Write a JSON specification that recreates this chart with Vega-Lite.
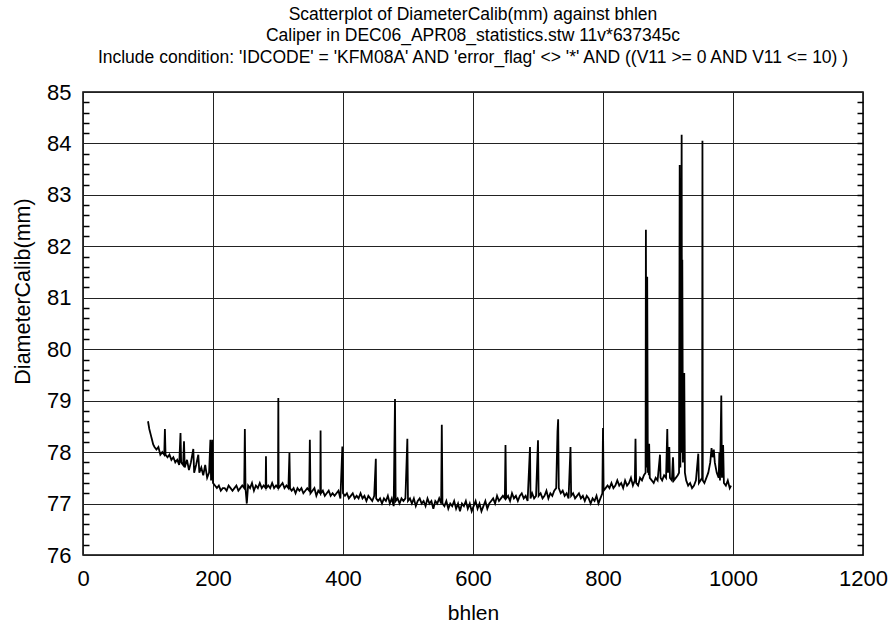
{
  "$schema": "https://vega.github.io/schema/vega-lite/v6.json",
  "autosize": "none",
  "width": 780,
  "height": 463,
  "padding": {"left": 83, "top": 92, "right": 27, "bottom": 75},
  "background": "white",
  "config": {
    "font": "Liberation Sans",
    "view": {"stroke": "black", "strokeWidth": 1.5},
    "axis": {"labelColor": "black", "titleColor": "black", "labelFont": "Liberation Sans", "titleFont": "Liberation Sans", "titleFontWeight": "normal"}
  },
  "title": {
    "text": ["Scatterplot of DiameterCalib(mm) against bhlen", "Caliper in DEC06_APR08_statistics.stw 11v*637345c", "Include condition: 'IDCODE' = 'KFM08A' AND 'error_flag' <> '*' AND  ((V11 >= 0 AND V11 <= 10) )"],
    "fontSize": 17.5,
    "fontWeight": "normal",
    "font": "Liberation Sans",
    "color": "black",
    "lineHeight": 21.5,
    "anchor": "middle",
    "offset": 15
  },
  "data": {"values": [
    {"bhlen": 100, "diam": 78.6}, {"bhlen": 102, "diam": 78.45}, {"bhlen": 104, "diam": 78.35}, {"bhlen": 106, "diam": 78.25}, {"bhlen": 108, "diam": 78.15}, {"bhlen": 110, "diam": 78.1}, {"bhlen": 113, "diam": 78.05}, {"bhlen": 116, "diam": 78.1}, {"bhlen": 119, "diam": 77.95}, {"bhlen": 122, "diam": 78.0}, {"bhlen": 125, "diam": 77.95}, {"bhlen": 126, "diam": 78.45}, {"bhlen": 127, "diam": 77.95}, {"bhlen": 130, "diam": 77.9}, {"bhlen": 133, "diam": 77.95}, {"bhlen": 136, "diam": 77.85}, {"bhlen": 139, "diam": 77.9}, {"bhlen": 142, "diam": 77.8}, {"bhlen": 145, "diam": 77.85}, {"bhlen": 148, "diam": 77.75}, {"bhlen": 150, "diam": 78.37}, {"bhlen": 151, "diam": 77.8}, {"bhlen": 154, "diam": 77.75}, {"bhlen": 155.4, "diam": 78.21}, {"bhlen": 156.5, "diam": 77.7}, {"bhlen": 160, "diam": 77.85}, {"bhlen": 163, "diam": 77.65}, {"bhlen": 166, "diam": 77.8}, {"bhlen": 169.7, "diam": 78.06}, {"bhlen": 171, "diam": 77.6}, {"bhlen": 174, "diam": 77.75}, {"bhlen": 177.4, "diam": 77.95}, {"bhlen": 179, "diam": 77.6}, {"bhlen": 182, "diam": 77.7}, {"bhlen": 185, "diam": 77.55}, {"bhlen": 188, "diam": 77.75}, {"bhlen": 191, "diam": 77.5}, {"bhlen": 194, "diam": 77.6}, {"bhlen": 196, "diam": 78.24}, {"bhlen": 197, "diam": 77.45}, {"bhlen": 199, "diam": 78.24}, {"bhlen": 200, "diam": 77.4},
    {"bhlen": 203, "diam": 77.35}, {"bhlen": 206, "diam": 77.3}, {"bhlen": 209, "diam": 77.35}, {"bhlen": 212, "diam": 77.25}, {"bhlen": 215, "diam": 77.3}, {"bhlen": 218, "diam": 77.3}, {"bhlen": 221, "diam": 77.25}, {"bhlen": 224, "diam": 77.35}, {"bhlen": 227, "diam": 77.3}, {"bhlen": 230, "diam": 77.25}, {"bhlen": 233, "diam": 77.3}, {"bhlen": 236, "diam": 77.35}, {"bhlen": 239, "diam": 77.25}, {"bhlen": 242, "diam": 77.3}, {"bhlen": 245, "diam": 77.35}, {"bhlen": 248, "diam": 77.3}, {"bhlen": 249, "diam": 78.45}, {"bhlen": 250, "diam": 77.3}, {"bhlen": 252, "diam": 77.0}, {"bhlen": 254, "diam": 77.35}, {"bhlen": 257, "diam": 77.3}, {"bhlen": 260, "diam": 77.4}, {"bhlen": 263, "diam": 77.25}, {"bhlen": 266, "diam": 77.35}, {"bhlen": 269, "diam": 77.3}, {"bhlen": 272, "diam": 77.4}, {"bhlen": 275, "diam": 77.3}, {"bhlen": 278, "diam": 77.35}, {"bhlen": 281, "diam": 77.3}, {"bhlen": 281.5, "diam": 77.92}, {"bhlen": 282, "diam": 77.3}, {"bhlen": 285, "diam": 77.35}, {"bhlen": 288, "diam": 77.3}, {"bhlen": 291, "diam": 77.4}, {"bhlen": 294, "diam": 77.3}, {"bhlen": 297, "diam": 77.35}, {"bhlen": 300, "diam": 77.3}, {"bhlen": 300.5, "diam": 79.05}, {"bhlen": 301, "diam": 77.3}, {"bhlen": 304, "diam": 77.35}, {"bhlen": 307, "diam": 77.4}, {"bhlen": 310, "diam": 77.3}, {"bhlen": 313, "diam": 77.35}, {"bhlen": 316, "diam": 77.3}, {"bhlen": 317.6, "diam": 77.98}, {"bhlen": 318.5, "diam": 77.3}, {"bhlen": 321, "diam": 77.25}, {"bhlen": 324, "diam": 77.3}, {"bhlen": 327, "diam": 77.2}, {"bhlen": 330, "diam": 77.3}, {"bhlen": 333, "diam": 77.25}, {"bhlen": 336, "diam": 77.3}, {"bhlen": 339, "diam": 77.2}, {"bhlen": 342, "diam": 77.25}, {"bhlen": 345, "diam": 77.3}, {"bhlen": 348, "diam": 77.25}, {"bhlen": 349, "diam": 78.24}, {"bhlen": 350, "diam": 77.2}, {"bhlen": 353, "diam": 77.25}, {"bhlen": 356, "diam": 77.3}, {"bhlen": 359, "diam": 77.15}, {"bhlen": 362, "diam": 77.25}, {"bhlen": 365, "diam": 77.2}, {"bhlen": 365.5, "diam": 78.42}, {"bhlen": 366, "diam": 77.2}, {"bhlen": 369, "diam": 77.25}, {"bhlen": 372, "diam": 77.15}, {"bhlen": 375, "diam": 77.2}, {"bhlen": 378, "diam": 77.25}, {"bhlen": 381, "diam": 77.15}, {"bhlen": 384, "diam": 77.2}, {"bhlen": 387, "diam": 77.15}, {"bhlen": 390, "diam": 77.2}, {"bhlen": 393, "diam": 77.25}, {"bhlen": 396, "diam": 77.1}, {"bhlen": 399, "diam": 78.11}, {"bhlen": 400, "diam": 77.2},
    {"bhlen": 403, "diam": 77.15}, {"bhlen": 406, "diam": 77.2}, {"bhlen": 409, "diam": 77.1}, {"bhlen": 412, "diam": 77.15}, {"bhlen": 415, "diam": 77.2}, {"bhlen": 418, "diam": 77.1}, {"bhlen": 421, "diam": 77.15}, {"bhlen": 424, "diam": 77.1}, {"bhlen": 427, "diam": 77.2}, {"bhlen": 430, "diam": 77.1}, {"bhlen": 433, "diam": 77.15}, {"bhlen": 436, "diam": 77.05}, {"bhlen": 439, "diam": 77.15}, {"bhlen": 442, "diam": 77.1}, {"bhlen": 445, "diam": 77.05}, {"bhlen": 448, "diam": 77.15}, {"bhlen": 450.5, "diam": 77.87}, {"bhlen": 451, "diam": 77.1}, {"bhlen": 454, "diam": 77.05}, {"bhlen": 457, "diam": 77.1}, {"bhlen": 460, "diam": 77.0}, {"bhlen": 463, "diam": 77.1}, {"bhlen": 466, "diam": 77.05}, {"bhlen": 469, "diam": 77.15}, {"bhlen": 472, "diam": 77.0}, {"bhlen": 475, "diam": 77.1}, {"bhlen": 478, "diam": 76.95}, {"bhlen": 480, "diam": 79.03}, {"bhlen": 481, "diam": 77.05}, {"bhlen": 484, "diam": 77.1}, {"bhlen": 487, "diam": 77.0}, {"bhlen": 490, "diam": 77.1}, {"bhlen": 493, "diam": 77.05}, {"bhlen": 496, "diam": 77.1}, {"bhlen": 499, "diam": 78.26}, {"bhlen": 500, "diam": 77.05}, {"bhlen": 503, "diam": 77.1}, {"bhlen": 506, "diam": 77.0}, {"bhlen": 509, "diam": 77.1}, {"bhlen": 512, "diam": 76.95}, {"bhlen": 515, "diam": 77.05}, {"bhlen": 518, "diam": 77.1}, {"bhlen": 521, "diam": 77.0}, {"bhlen": 524, "diam": 77.05}, {"bhlen": 527, "diam": 76.95}, {"bhlen": 530, "diam": 77.1}, {"bhlen": 533, "diam": 77.0}, {"bhlen": 536, "diam": 77.05}, {"bhlen": 539, "diam": 76.9}, {"bhlen": 542, "diam": 77.05}, {"bhlen": 545, "diam": 77.0}, {"bhlen": 548, "diam": 77.1}, {"bhlen": 551, "diam": 77.0}, {"bhlen": 552, "diam": 78.53}, {"bhlen": 553, "diam": 77.0}, {"bhlen": 556, "diam": 76.95}, {"bhlen": 559, "diam": 77.05}, {"bhlen": 562, "diam": 76.9}, {"bhlen": 565, "diam": 77.0}, {"bhlen": 568, "diam": 76.95}, {"bhlen": 571, "diam": 77.05}, {"bhlen": 574, "diam": 76.9}, {"bhlen": 577, "diam": 77.0}, {"bhlen": 580, "diam": 76.85}, {"bhlen": 583, "diam": 77.0}, {"bhlen": 586, "diam": 76.95}, {"bhlen": 589, "diam": 77.05}, {"bhlen": 592, "diam": 76.9}, {"bhlen": 595, "diam": 77.0}, {"bhlen": 598, "diam": 76.85}, {"bhlen": 601, "diam": 76.95}, {"bhlen": 604, "diam": 77.05}, {"bhlen": 607, "diam": 76.9}, {"bhlen": 610, "diam": 77.0}, {"bhlen": 613, "diam": 76.85}, {"bhlen": 616, "diam": 76.95}, {"bhlen": 619, "diam": 77.05}, {"bhlen": 622, "diam": 76.9}, {"bhlen": 625, "diam": 77.0},
    {"bhlen": 628, "diam": 77.05}, {"bhlen": 631, "diam": 77.1}, {"bhlen": 634, "diam": 77.0}, {"bhlen": 637, "diam": 77.15}, {"bhlen": 640, "diam": 77.05}, {"bhlen": 643, "diam": 77.1}, {"bhlen": 646, "diam": 77.15}, {"bhlen": 649, "diam": 77.1}, {"bhlen": 650, "diam": 78.14}, {"bhlen": 651, "diam": 77.1}, {"bhlen": 654, "diam": 77.15}, {"bhlen": 657, "diam": 77.05}, {"bhlen": 660, "diam": 77.2}, {"bhlen": 663, "diam": 77.1}, {"bhlen": 666, "diam": 77.15}, {"bhlen": 669, "diam": 77.05}, {"bhlen": 672, "diam": 77.15}, {"bhlen": 675, "diam": 77.2}, {"bhlen": 678, "diam": 77.1}, {"bhlen": 681, "diam": 77.15}, {"bhlen": 684, "diam": 77.05}, {"bhlen": 687.7, "diam": 78.1}, {"bhlen": 688.5, "diam": 77.1}, {"bhlen": 691, "diam": 77.2}, {"bhlen": 694, "diam": 77.1}, {"bhlen": 697, "diam": 77.15}, {"bhlen": 700, "diam": 78.23}, {"bhlen": 701, "diam": 77.15}, {"bhlen": 704, "diam": 77.2}, {"bhlen": 707, "diam": 77.1}, {"bhlen": 710, "diam": 77.15}, {"bhlen": 713, "diam": 77.25}, {"bhlen": 716, "diam": 77.1}, {"bhlen": 719, "diam": 77.2}, {"bhlen": 722, "diam": 77.15}, {"bhlen": 725, "diam": 77.25}, {"bhlen": 728, "diam": 77.3}, {"bhlen": 730, "diam": 78.4}, {"bhlen": 731, "diam": 78.64}, {"bhlen": 732, "diam": 77.3}, {"bhlen": 735, "diam": 77.2}, {"bhlen": 738, "diam": 77.25}, {"bhlen": 741, "diam": 77.15}, {"bhlen": 744, "diam": 77.2}, {"bhlen": 747, "diam": 77.1}, {"bhlen": 750, "diam": 78.1}, {"bhlen": 751, "diam": 77.15}, {"bhlen": 754, "diam": 77.2}, {"bhlen": 757, "diam": 77.1}, {"bhlen": 760, "diam": 77.15}, {"bhlen": 763, "diam": 77.2}, {"bhlen": 766, "diam": 77.1}, {"bhlen": 769, "diam": 77.15}, {"bhlen": 772, "diam": 77.05}, {"bhlen": 775, "diam": 77.15}, {"bhlen": 778, "diam": 77.1}, {"bhlen": 781, "diam": 77.0}, {"bhlen": 784, "diam": 77.1}, {"bhlen": 787, "diam": 77.05}, {"bhlen": 790, "diam": 77.15}, {"bhlen": 793, "diam": 77.0}, {"bhlen": 796, "diam": 77.1}, {"bhlen": 799, "diam": 77.2}, {"bhlen": 800, "diam": 78.47},
    {"bhlen": 801, "diam": 77.25}, {"bhlen": 804, "diam": 77.3}, {"bhlen": 807, "diam": 77.35}, {"bhlen": 810, "diam": 77.3}, {"bhlen": 813, "diam": 77.4}, {"bhlen": 816, "diam": 77.3}, {"bhlen": 819, "diam": 77.35}, {"bhlen": 822, "diam": 77.45}, {"bhlen": 825, "diam": 77.35}, {"bhlen": 828, "diam": 77.4}, {"bhlen": 831, "diam": 77.3}, {"bhlen": 834, "diam": 77.45}, {"bhlen": 837, "diam": 77.35}, {"bhlen": 840, "diam": 77.4}, {"bhlen": 843, "diam": 77.5}, {"bhlen": 846, "diam": 77.35}, {"bhlen": 849, "diam": 77.45}, {"bhlen": 850, "diam": 78.26}, {"bhlen": 851, "diam": 77.4}, {"bhlen": 854, "diam": 77.35}, {"bhlen": 857, "diam": 77.5}, {"bhlen": 860, "diam": 77.45}, {"bhlen": 863, "diam": 77.55}, {"bhlen": 865.5, "diam": 77.6}, {"bhlen": 866, "diam": 82.32}, {"bhlen": 866.8, "diam": 77.7}, {"bhlen": 868, "diam": 81.41}, {"bhlen": 869, "diam": 77.6}, {"bhlen": 869.7, "diam": 78.16}, {"bhlen": 870.5, "diam": 77.55}, {"bhlen": 871, "diam": 78.16}, {"bhlen": 872, "diam": 77.5}, {"bhlen": 875, "diam": 77.45}, {"bhlen": 878, "diam": 77.4}, {"bhlen": 881, "diam": 77.5}, {"bhlen": 884, "diam": 77.45}, {"bhlen": 887.7, "diam": 77.95}, {"bhlen": 888.5, "diam": 77.5}, {"bhlen": 891, "diam": 77.45}, {"bhlen": 894, "diam": 77.55}, {"bhlen": 897, "diam": 77.5}, {"bhlen": 898.9, "diam": 78.45}, {"bhlen": 900, "diam": 77.6}, {"bhlen": 902, "diam": 78.1}, {"bhlen": 903, "diam": 77.5}, {"bhlen": 906, "diam": 77.45}, {"bhlen": 907.7, "diam": 77.9}, {"bhlen": 909, "diam": 77.45}, {"bhlen": 912, "diam": 77.5}, {"bhlen": 915, "diam": 77.55}, {"bhlen": 917, "diam": 77.6}, {"bhlen": 918, "diam": 83.58}, {"bhlen": 919, "diam": 77.7}, {"bhlen": 920, "diam": 79.0}, {"bhlen": 921, "diam": 84.17}, {"bhlen": 921.6, "diam": 78.0}, {"bhlen": 922, "diam": 81.74}, {"bhlen": 923, "diam": 77.8}, {"bhlen": 924, "diam": 79.2}, {"bhlen": 925, "diam": 79.54}, {"bhlen": 926, "diam": 77.6}, {"bhlen": 928, "diam": 77.45}, {"bhlen": 931, "diam": 77.35}, {"bhlen": 934, "diam": 77.4}, {"bhlen": 937, "diam": 77.3}, {"bhlen": 940, "diam": 77.35}, {"bhlen": 943, "diam": 77.45}, {"bhlen": 946.6, "diam": 77.97}, {"bhlen": 947.5, "diam": 77.4}, {"bhlen": 950, "diam": 77.45}, {"bhlen": 952.5, "diam": 77.5}, {"bhlen": 953, "diam": 84.05}, {"bhlen": 953.5, "diam": 77.45}, {"bhlen": 956, "diam": 77.4}, {"bhlen": 959, "diam": 77.5}, {"bhlen": 962, "diam": 77.6}, {"bhlen": 965, "diam": 77.8}, {"bhlen": 967, "diam": 78.08}, {"bhlen": 968.5, "diam": 77.9}, {"bhlen": 970.5, "diam": 78.05}, {"bhlen": 972, "diam": 77.8}, {"bhlen": 975, "diam": 77.6}, {"bhlen": 978, "diam": 77.5}, {"bhlen": 979, "diam": 77.98}, {"bhlen": 980, "diam": 77.45}, {"bhlen": 982, "diam": 79.1}, {"bhlen": 983, "diam": 77.5}, {"bhlen": 984.8, "diam": 78.14}, {"bhlen": 986, "diam": 77.4}, {"bhlen": 989, "diam": 77.35}, {"bhlen": 992, "diam": 77.45}, {"bhlen": 995, "diam": 77.3}, {"bhlen": 997, "diam": 77.35}
  ]},
  "layer": [
    {
      "mark": {"type": "line", "color": "black", "strokeWidth": 1.8, "clip": true},
      "encoding": {
        "x": {"field": "bhlen", "type": "quantitative", "scale": {"domain": [0, 1200], "nice": false},
              "axis": {"title": "bhlen", "format": "d", "values": [0, 200, 400, 600, 800, 1000, 1200], "grid": true, "gridColor": "#222", "gridOpacity": 1, "gridWidth": 1, "ticks": false, "domain": false, "labelFontSize": 22, "labelPadding": 13, "titleFontSize": 21, "titlePadding": 13, "labelFlush": false}},
        "y": {"field": "diam", "type": "quantitative", "scale": {"domain": [76, 85], "nice": false, "zero": false},
              "axis": {"title": "DiameterCalib(mm)", "orient": "left", "values": [76, 77, 78, 79, 80, 81, 82, 83, 84, 85], "grid": true, "gridColor": "#222", "gridOpacity": 1, "gridWidth": 1, "ticks": false, "domain": false, "labelFontSize": 22, "labelPadding": 12, "titleFontSize": 21.5, "titlePadding": 12, "titleY": 199, "labelFlush": false}}
      }
    },
    {
      "mark": {"type": "line", "opacity": 0},
      "encoding": {
        "x": {"field": "bhlen", "type": "quantitative"},
        "y": {"field": "diam", "type": "quantitative",
              "axis": {"orient": "left", "title": null, "labels": false, "grid": false, "domain": false, "ticks": true, "tickSize": -6, "tickColor": "black", "tickWidth": 1.5,
                       "values": [76.2, 76.4, 76.6, 76.8, 77.2, 77.4, 77.6, 77.8, 78.2, 78.4, 78.6, 78.8, 79.2, 79.4, 79.6, 79.8, 80.2, 80.4, 80.6, 80.8, 81.2, 81.4, 81.6, 81.8, 82.2, 82.4, 82.6, 82.8, 83.2, 83.4, 83.6, 83.8, 84.2, 84.4, 84.6, 84.8]}}
      }
    },
    {
      "mark": {"type": "line", "opacity": 0},
      "encoding": {
        "x": {"field": "bhlen", "type": "quantitative"},
        "y": {"field": "diam", "type": "quantitative",
              "axis": {"orient": "right", "title": null, "labels": false, "grid": false, "domain": false, "ticks": true, "tickSize": -6, "tickColor": "black", "tickWidth": 1.5,
                       "values": [76.2, 76.4, 76.6, 76.8, 77, 77.2, 77.4, 77.6, 77.8, 78, 78.2, 78.4, 78.6, 78.8, 79, 79.2, 79.4, 79.6, 79.8, 80, 80.2, 80.4, 80.6, 80.8, 81, 81.2, 81.4, 81.6, 81.8, 82, 82.2, 82.4, 82.6, 82.8, 83, 83.2, 83.4, 83.6, 83.8, 84, 84.2, 84.4, 84.6, 84.8]}}
      }
    }
  ],
  "resolve": {"axis": {"y": "independent"}}
}
